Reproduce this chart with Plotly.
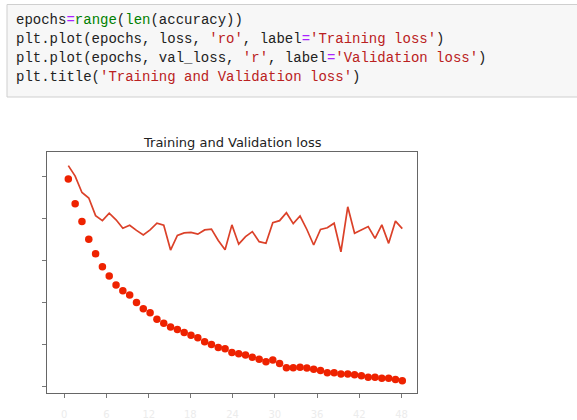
import plotly.graph_objects as go

W, H = 577, 420

epochs = list(range(50))

loss = [0.595, 0.536, 0.494, 0.452, 0.417, 0.386, 0.364, 0.343, 0.329, 0.319,
        0.301, 0.286, 0.277, 0.261, 0.252, 0.243, 0.237, 0.230, 0.223, 0.217,
        0.208, 0.201, 0.194, 0.191, 0.182, 0.179, 0.176, 0.171, 0.166, 0.160,
        0.164, 0.156, 0.146, 0.146, 0.147, 0.145, 0.142, 0.139, 0.134, 0.134,
        0.131, 0.131, 0.129, 0.127, 0.123, 0.123, 0.121, 0.121, 0.118, 0.115]

val_loss = [0.627, 0.602, 0.563, 0.550, 0.508, 0.496, 0.514, 0.498, 0.478, 0.485,
            0.473, 0.462, 0.474, 0.490, 0.485, 0.426, 0.461, 0.467, 0.468, 0.464,
            0.474, 0.476, 0.449, 0.427, 0.486, 0.440, 0.458, 0.470, 0.446, 0.442,
            0.491, 0.496, 0.515, 0.489, 0.507, 0.475, 0.438, 0.475, 0.479, 0.490,
            0.422, 0.529, 0.466, 0.475, 0.482, 0.454, 0.486, 0.442, 0.495, 0.477]

x_tickvals = [-0.6, 5.6, 11.8, 17.9, 24.1, 30.3, 36.5, 42.7, 48.9]
x_ticktext = ["0", "6", "12", "18", "24", "30", "36", "42", "48"]
y_tickvals = [0.1, 0.2, 0.3, 0.4, 0.5, 0.6]

code_lines = [
    "epochs<span style='color:#aa22ff'>=</span><span style='color:#008000'>range</span>(<span style='color:#008000'>len</span>(accuracy))",
    "plt.plot(epochs, loss, <span style='color:#ba2121'>'ro'</span>, label<span style='color:#aa22ff'>=</span><span style='color:#ba2121'>'Training loss'</span>)",
    "plt.plot(epochs, val_loss, <span style='color:#ba2121'>'r'</span>, label<span style='color:#aa22ff'>=</span><span style='color:#ba2121'>'Validation loss'</span>)",
    "plt.title(<span style='color:#ba2121'>'Training and Validation loss'</span>)",
]
title_text = "Training and Validation loss"

fig = go.Figure()
fig.add_trace(go.Scatter(x=epochs, y=loss, mode="markers", name="Training loss",
                         marker=dict(color="#ee2200", size=7.5, line=dict(width=0))))
fig.add_trace(go.Scatter(x=epochs, y=val_loss, mode="lines", name="Validation loss",
                         line=dict(color="#db4129", width=1.7)))

def px(v):
    return v / W

def py(v):
    return 1 - v / H

fig.update_layout(
    width=W, height=H, autosize=False,
    margin=dict(l=0, r=0, t=0, b=0),
    paper_bgcolor="white", plot_bgcolor="white",
    showlegend=False,
    xaxis=dict(domain=[px(47), px(417)], range=[-3.13, 51.16],
               showgrid=False, zeroline=False,
               showline=True, linecolor="#666666", linewidth=1, mirror=True,
               ticks="outside", ticklen=4, tickcolor="#777777",
               tickmode="array", tickvals=x_tickvals, ticktext=x_ticktext,
               ticklabelstandoff=8,
               tickfont=dict(family="DejaVu Sans", size=10, color="#ececec")),
    yaxis=dict(domain=[py(393), py(152)], range=[0.0857, 0.6595],
               showgrid=False, zeroline=False,
               showline=True, linecolor="#666666", linewidth=1, mirror=True,
               ticks="outside", ticklen=4, tickcolor="#777777",
               tickmode="array", tickvals=y_tickvals, showticklabels=False),
)

# code cell box
fig.add_shape(type="rect", xref="paper", yref="paper",
              x0=px(7), x1=px(580), y0=py(97), y1=py(4.5),
              fillcolor="#f7f7f7", line=dict(color="#cfcfcf", width=1), layer="below")

for i, line in enumerate(code_lines):
    fig.add_annotation(xref="paper", yref="paper", x=px(13.5), y=py(19.5 + 19.1 * i),
                       xanchor="left", yanchor="middle", showarrow=False,
                       text=line, font=dict(family="Liberation Mono", size=14, color="#222222"))

fig.add_annotation(xref="paper", yref="paper", x=px(232), y=py(142.5),
                   xanchor="center", yanchor="middle", showarrow=False,
                   text=title_text, font=dict(family="DejaVu Sans", size=13, color="#222222"))

fig.write_html("out.html", config={"displayModeBar": False},
               post_script="document.body.style.margin='0';document.body.style.padding='0';")
